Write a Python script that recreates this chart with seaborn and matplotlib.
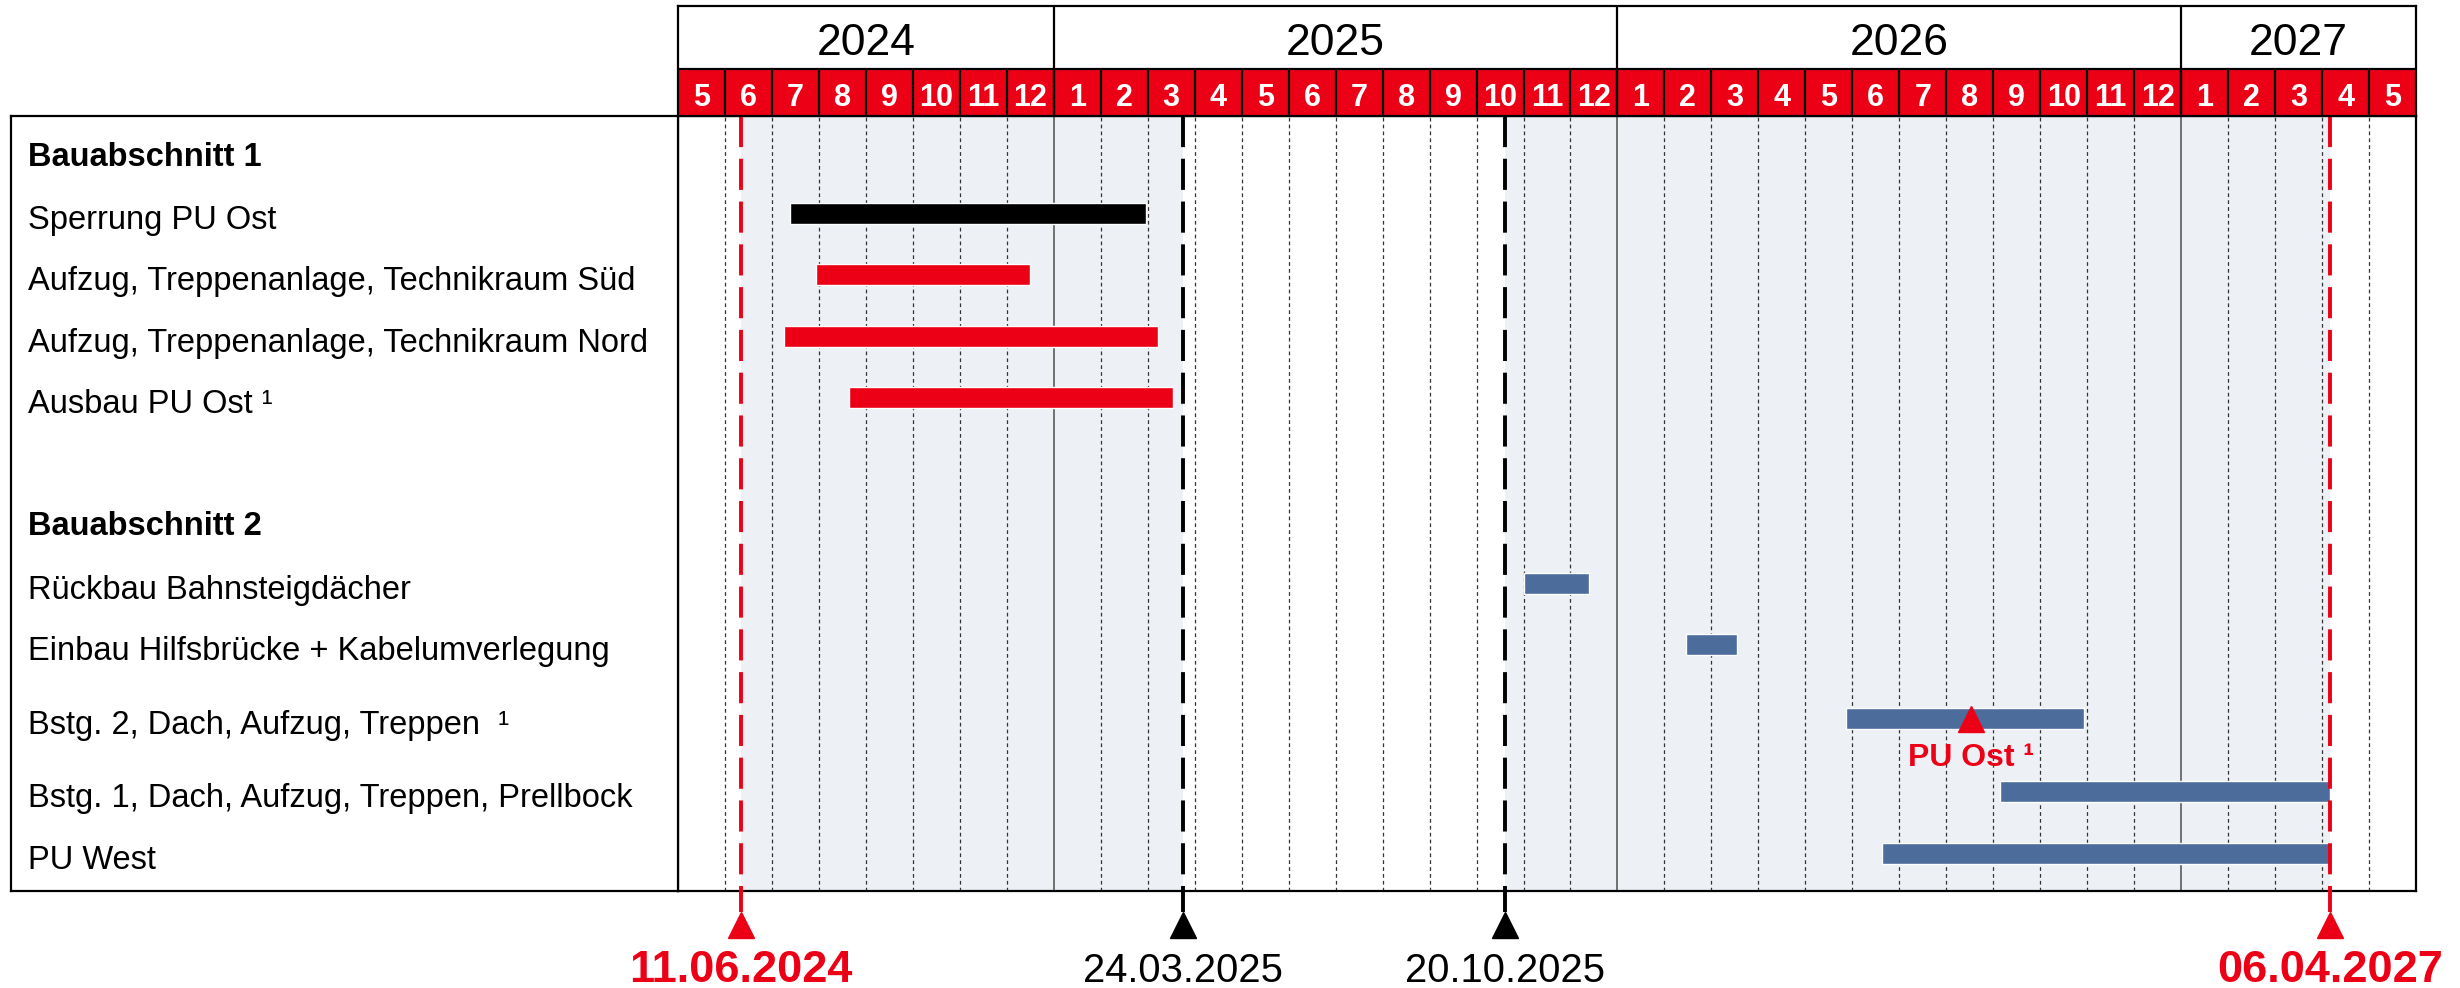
import pandas as pd
import numpy as np
import matplotlib.pyplot as plt
import seaborn as sns

# ---- data ----
labels = ["Bauabschnitt 1",
          "Sperrung PU Ost",
          "Aufzug, Treppenanlage, Technikraum Süd",
          "Aufzug, Treppenanlage, Technikraum Nord",
          "Ausbau PU Ost ¹",
          "Bauabschnitt 2",
          "Rückbau Bahnsteigdächer",
          "Einbau Hilfsbrücke + Kabelumverlegung",
          "Bstg. 2, Dach, Aufzug, Treppen  ¹",
          "Bstg. 1, Dach, Aufzug, Treppen, Prellbock",
          "PU West"]
is_heading = [True, False, False, False, False, True, False, False, False, False, False]
starts = [None, "2024-07-13", "2024-07-30", "2024-07-09", "2024-08-21",
          None, "2025-11-01", "2026-02-14", "2026-05-28", "2026-09-05", "2026-06-20"]
ends = [None, "2025-02-28", "2024-12-16", "2025-03-08", "2025-03-18",
        None, "2025-12-13", "2026-03-18", "2026-10-30", "2027-04-06", "2027-04-06"]
phase = [None, "sperrung", "ba1", "ba1", "ba1",
         None, "ba2", "ba2", "ba2", "ba2", "ba2"]

milestone_dates = ["2024-06-11", "2025-03-24", "2025-10-20", "2027-04-06"]
milestone_red = [True, False, False, True]

pu_ost_date = "2026-08-17"
pu_ost_label = "PU Ost ¹"
pu_ost_row = 8

first_month = "2024-05"
last_month = "2027-05"

# ---- layout / style ----
row_pos = [0.57, 1.60, 2.60, 3.62, 4.62, 6.62, 7.66, 8.66, 9.88, 11.07, 12.09]
table_bottom = 12.705
RED = "#EC0016"
BLUE = "#4C6C9C"
SHADE = "#EDF1F5"
colors = {"sperrung": "black", "ba1": RED, "ba2": BLUE}

months = pd.period_range(first_month, last_month, freq="M")
m0 = months[0]


def to_month(d):
    ts = pd.Timestamp(d)
    return (ts.year - m0.year) * 12 + ts.month - m0.month + (ts.day - 1) / ts.days_in_month


df = pd.DataFrame({"label": labels, "start": starts, "end": ends,
                   "phase": phase, "pos": row_pos})
bars = df.dropna(subset=["start"]).copy()
bars["s"] = bars["start"].map(to_month)
bars["e"] = bars["end"].map(to_month)
ms_x = [to_month(d) for d in milestone_dates]

sns.set_theme(style="white")
plt.rcParams["font.family"] = ["Liberation Sans", "DejaVu Sans"]

W, H = 2460, 988
fig = plt.figure(figsize=(W / 100, H / 100), dpi=100)


def px_axes(x0, y0, x1, y1):
    return fig.add_axes([x0 / W, 1 - y1 / H, (x1 - x0) / W, (y1 - y0) / H])


ax = px_axes(678, 116, 2416, 891)
lab = px_axes(11, 116, 678, 891)
hdr = px_axes(678, 6, 2416, 116)

n = len(months)
for a in (ax, lab, hdr):
    a.set_xticks([])
    a.set_yticks([])
    for sp in a.spines.values():
        sp.set_color("black")
        sp.set_linewidth(1.6)

# ---- main gantt area ----
ax.set_xlim(0, n)
ax.set_ylim(table_bottom, 0)
ax.axvspan(ms_x[0], ms_x[1], color=SHADE, zorder=0, lw=0)
ax.axvspan(ms_x[2], ms_x[3], color=SHADE, zorder=0, lw=0)
for i in range(1, n):
    if months[i].month == 1:
        ax.axvline(i, color="#707070", lw=1.4, zorder=1)
    else:
        ax.axvline(i, color="#333333", lw=0.9, dashes=(3, 2.5), zorder=1)

ax.barh(bars["pos"], bars["e"] - bars["s"], left=bars["s"], height=0.34,
        color=[colors[p] for p in bars["phase"]], zorder=3)

for x, red, d in zip(ms_x, milestone_red, milestone_dates):
    c = RED if red else "black"
    ax.plot([x, x], [0, 13.05], color=c, lw=2.8, dashes=(8, 3),
            clip_on=False, zorder=4)
    ax.plot(x, 13.27, marker="^", ms=19, color=c, clip_on=False, zorder=5)
    ax.text(x, 14.19, pd.Timestamp(d).strftime("%d.%m.%Y"), ha="center",
            va="baseline", color=c, fontsize=32.5 if red else 28.8,
            fontweight="bold" if red else "normal", clip_on=False)

px = to_month(pu_ost_date)
ax.plot(px, row_pos[pu_ost_row], marker="^", ms=19, color=RED, zorder=5)
ax.text(px, 10.66, pu_ost_label, ha="center", va="baseline", color=RED,
        fontsize=23, fontweight="bold")

# ---- label panel ----
lab.set_xlim(0, 1)
lab.set_ylim(table_bottom, 0)
for text, y, head in zip(labels, row_pos, is_heading):
    lab.text(0.025, y + 0.25, text, ha="left", va="baseline", fontsize=23.5,
             fontweight="bold" if head else "normal", color="black")

# ---- header: years and months ----
split = 0.427
hdr.set_xlim(0, n)
hdr.set_ylim(0, 1)
hdr.axhspan(0, split, color=RED, lw=0)
hdr.vlines(range(1, n), 0, split, color="black", lw=1.6)
hdr.axhline(split, color="black", lw=1.6)
for i, p in enumerate(months):
    hdr.text(i + 0.5, 0.09, str(p.month), ha="center", va="baseline",
             color="white", fontsize=22, fontweight="bold")

years = pd.Series(range(n), index=[p.year for p in months])
for yr in years.index.unique():
    idx = years.loc[yr]
    lo, hi = idx.min(), idx.max() + 1
    if lo > 0:
        hdr.axvline(lo, color="black", lw=1.6)
    hdr.text((lo + hi) / 2, 0.555, str(yr), ha="center", va="baseline",
             fontsize=32, color="black")

fig.savefig("out.png", dpi=100)
